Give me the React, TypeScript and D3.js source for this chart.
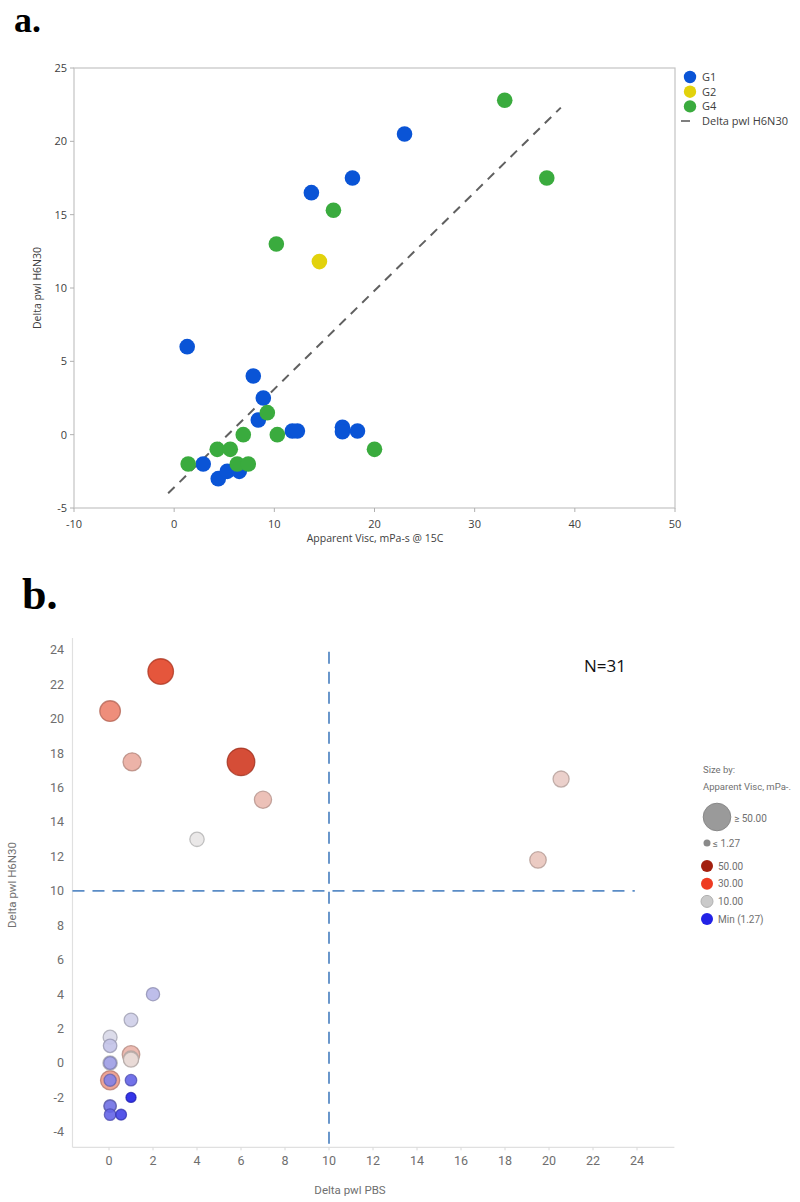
import React from "react";
import * as d3 from "d3";

// ---------- Panel a data ----------
const g1X = [23.0, 13.7, 17.8, 1.3, 7.9, 8.9, 8.4, 11.8, 12.3, 16.8, 16.8, 18.3, 2.9, 4.4, 5.3, 6.5];
const g1Y = [20.5, 16.5, 17.5, 6.0, 4.0, 2.5, 1.0, 0.25, 0.25, 0.5, 0.2, 0.25, -2.0, -3.0, -2.5, -2.5];
const g2X = [14.5];
const g2Y = [11.8];
const g4X = [33.0, 37.2, 15.9, 10.2, 1.4, 4.3, 5.6, 6.9, 9.3, 10.3, 6.3, 7.4, 20.0];
const g4Y = [22.8, 17.5, 15.3, 13.0, -2.0, -1.0, -1.0, 0.0, 1.5, 0.0, -2.0, -2.0, -1.0];
const fitX = [-0.6, 38.6];
const fitY = [-4.0, 22.3];
const aXTicks = [-10, 0, 10, 20, 30, 40, 50];
const aYTicks = [-5, 0, 5, 10, 15, 20, 25];
const groups = ["G1", "G2", "G4"];
const groupColors = ["#0a54d6", "#e2d20c", "#3aab3e"];

// ---------- Panel b data ----------
const pbsX = [2.35, 0.05, 1.05, 6.0, 7.0, 4.0, 20.55, 19.5, 2.0, 1.0, 0.05, 0.05, 0.05, 0.05, 1.0, 1.0, 1.0, 0.05, 0.05, 1.0, 1.0, 0.05, 0.05, 0.05, 0.55];
const h6n30Y = [22.75, 20.45, 17.5, 17.5, 15.3, 13.0, 16.5, 11.8, 4.0, 2.5, 1.5, 1.0, 0.0, 0.0, 0.5, 0.25, 0.2, -1.0, -1.0, -1.0, -2.0, -2.5, -2.5, -3.0, -3.0];
const viscB = [33.0, 23.0, 17.8, 37.2, 15.9, 10.2, 13.7, 14.5, 7.9, 8.9, 9.3, 8.4, 10.3, 6.9, 16.8, 12.3, 11.8, 20.0, 5.6, 4.3, 1.4, 6.5, 5.3, 4.4, 2.9];
const bTicks = [0, 2, 4, 6, 8, 10, 12, 14, 16, 18, 20, 22, 24];
const bYTicks = [-4, -2, 0, 2, 4, 6, 8, 10, 12, 14, 16, 18, 20, 22, 24];
const colorStops = [1.27, 10, 30, 50];
const colorRange = ["#1c1ce6", "#e8e8e8", "#ee4b2b", "#9b1b0f"];
const colorLegendLabels = ["50.00", "30.00", "10.00", "Min (1.27)"];
const colorLegendValues = [50, 30, 10, 1.27];

export default function App() {
  // panel a scales
  const xA = d3.scaleLinear().domain([-10, 50]).range([74, 675]);
  const yA = d3.scaleLinear().domain([-5, 25]).range([508, 68]);
  const fontA = "'Open Sans', 'DejaVu Sans', sans-serif";
  const series = [
    { xs: g1X, ys: g1Y, c: groupColors[0] },
    { xs: g2X, ys: g2Y, c: groupColors[1] },
    { xs: g4X, ys: g4Y, c: groupColors[2] },
  ];
  const fitLine = d3.line<number>().x((_, i) => xA(fitX[i])).y((_, i) => yA(fitY[i]));

  // panel b scales
  const xB = d3.scaleLinear().domain([0, 24]).range([109, 637]);
  const yB = d3.scaleLinear().domain([0, 24]).range([1063, 650]);
  const rB = d3.scaleLinear().domain([1.27, 37.2]).range([5, 13.8]).clamp(true);
  const cB = d3.scaleLinear<string>().domain(colorStops).range(colorRange).interpolate(d3.interpolateRgb).clamp(true);
  const fontB = "Roboto, 'Noto Sans', sans-serif";
  const bxMin = -1.66, bxMax = 25.7, byMin = -4.9, byMax = 24.7;
  const bubbles = pbsX.map((x, i) => ({ x, y: h6n30Y[i], v: viscB[i] })).sort((a, b) => b.v - a.v);

  return (
    <svg width={800} height={1202} style={{ position: "absolute", left: 0, top: 0, background: "#fff" }}>
      {/* ===== Panel a ===== */}
      <text x={14} y={32} fontFamily="'Liberation Serif', 'Times New Roman', serif" fontWeight="bold" fontSize={36}>a.</text>
      <rect x={xA(-10)} y={yA(25)} width={xA(50) - xA(-10)} height={yA(-5) - yA(25)} fill="none" stroke="#c4c4c4" strokeWidth={1.2} />
      {aYTicks.map((t) => (
        <g key={"ay" + t}>
          <line x1={xA(-10) - 4} x2={xA(-10)} y1={yA(t)} y2={yA(t)} stroke="#b0b0b0" />
          <text x={xA(-10) - 7} y={yA(t)} dy="0.35em" textAnchor="end" fontFamily={fontA} fontSize={11} fill="#404040">{t}</text>
        </g>
      ))}
      {aXTicks.map((t) => (
        <g key={"ax" + t}>
          <line x1={xA(t)} x2={xA(t)} y1={yA(-5)} y2={yA(-5) + 4} stroke="#b0b0b0" />
          <text x={xA(t)} y={yA(-5) + 16} dy="0.35em" textAnchor="middle" fontFamily={fontA} fontSize={11} fill="#404040">{t}</text>
        </g>
      ))}
      <text x={375} y={538} dy="0.35em" textAnchor="middle" fontFamily={fontA} fontSize={10.5} fill="#404040">Apparent Visc, mPa-s @ 15C</text>
      <text transform={`translate(37,288) rotate(-90)`} textAnchor="middle" dy="0.35em" fontFamily={fontA} fontSize={10.5} fill="#404040">Delta pwl H6N30</text>
      <path d={fitLine(fitX) || ""} fill="none" stroke="#606060" strokeWidth={2} strokeDasharray="9,7" />
      {series.map((s, si) =>
        s.xs.map((x, i) => <circle key={si + "-" + i} cx={xA(x)} cy={yA(s.ys[i])} r={7.8} fill={s.c} />)
      )}
      {/* legend a */}
      {groups.map((g, i) => (
        <g key={g}>
          <circle cx={690} cy={77 + i * 14.7} r={6.2} fill={groupColors[i]} />
          <text x={702} y={77 + i * 14.7} dy="0.35em" fontFamily={fontA} fontSize={11} fill="#404040">{g}</text>
        </g>
      ))}
      <line x1={681} x2={690} y1={121} y2={121} stroke="#555" strokeWidth={1.5} />
      <text x={702} y={121} dy="0.35em" fontFamily={fontA} fontSize={11} fill="#404040">Delta pwl H6N30</text>

      {/* ===== Panel b ===== */}
      <text x={22} y={609} fontFamily="'Liberation Serif', 'Times New Roman', serif" fontWeight="bold" fontSize={44}>b.</text>
      <line x1={xB(bxMin)} x2={xB(bxMin)} y1={yB(byMax)} y2={yB(byMin)} stroke="#e0e0e0" strokeWidth={1.2} />
      <line x1={xB(bxMin)} x2={xB(bxMax)} y1={yB(byMin)} y2={yB(byMin)} stroke="#e0e0e0" strokeWidth={1.2} />
      {bYTicks.map((t) => (
        <text key={"by" + t} x={64} y={yB(t)} dy="0.35em" textAnchor="end" fontFamily={fontB} fontSize={12.5} fill="#6e6e6e">{t}</text>
      ))}
      {bTicks.map((t) => (
        <g key={"bx" + t}>
          <line x1={xB(t)} x2={xB(t)} y1={yB(byMin)} y2={yB(byMin) + 3} stroke="#d8d8d8" />
          <text x={xB(t)} y={1161} dy="0.35em" textAnchor="middle" fontFamily={fontB} fontSize={12.5} fill="#6e6e6e">{t}</text>
        </g>
      ))}
      <text x={350} y={1190} dy="0.35em" textAnchor="middle" fontFamily={fontB} fontSize={11.5} fill="#707070">Delta pwl PBS</text>
      <text transform={`translate(12,885) rotate(-90)`} textAnchor="middle" dy="0.35em" fontFamily={fontB} fontSize={11.5} fill="#707070">Delta pwl H6N30</text>
      {/* reference lines */}
      <line x1={xB(10)} x2={xB(10)} y1={yB(23.9)} y2={yB(byMin)} stroke="#5a8cc6" strokeWidth={1.8} strokeDasharray="12,8" />
      <line x1={xB(bxMin)} x2={xB(23.9)} y1={yB(10)} y2={yB(10)} stroke="#5a8cc6" strokeWidth={1.8} strokeDasharray="12,8" />
      <text x={605} y={666} dy="0.35em" textAnchor="middle" fontFamily="'Open Sans', 'DejaVu Sans', sans-serif" fontSize={17} fill="#111">N=31</text>
      {bubbles.map((b, i) => {
        const fill = cB(b.v);
        const stroke = d3.color(fill)!.darker(0.8).formatHex();
        return (
          <circle key={"bb" + i} cx={xB(b.x)} cy={yB(b.y)} r={rB(b.v)} fill={fill} fillOpacity={0.9} stroke={stroke} strokeOpacity={0.75} strokeWidth={1.3} />
        );
      })}
      {/* legend b */}
      <text x={703} y={770} dy="0.35em" fontFamily={fontB} fontSize={9.5} fill="#707070">Size by:</text>
      <text x={703} y={787} dy="0.35em" fontFamily={fontB} fontSize={9.5} fill="#707070">Apparent Visc, mPa-.</text>
      <circle cx={717} cy={817} r={13.8} fill="#9a9a9a" stroke="#888" />
      <text x={734} y={818} dy="0.35em" fontFamily={fontB} fontSize={10} fill="#707070">≥ 50.00</text>
      <circle cx={707} cy={843} r={3.5} fill="#8a8a8a" />
      <text x={713} y={843} dy="0.35em" fontFamily={fontB} fontSize={10} fill="#707070">≤ 1.27</text>
      {colorLegendValues.map((v, i) => (
        <g key={"cl" + i}>
          <circle cx={707} cy={866 + i * 17.7} r={6} fill={i === 0 ? "#a3200f" : i === 1 ? "#ee3b22" : i === 2 ? "#cacaca" : "#2222e6"} stroke={i === 2 ? "#b0b0b0" : "none"} />
          <text x={718} y={866 + i * 17.7} dy="0.35em" fontFamily={fontB} fontSize={10} fill="#707070">{colorLegendLabels[i]}</text>
        </g>
      ))}
    </svg>
  );
}
